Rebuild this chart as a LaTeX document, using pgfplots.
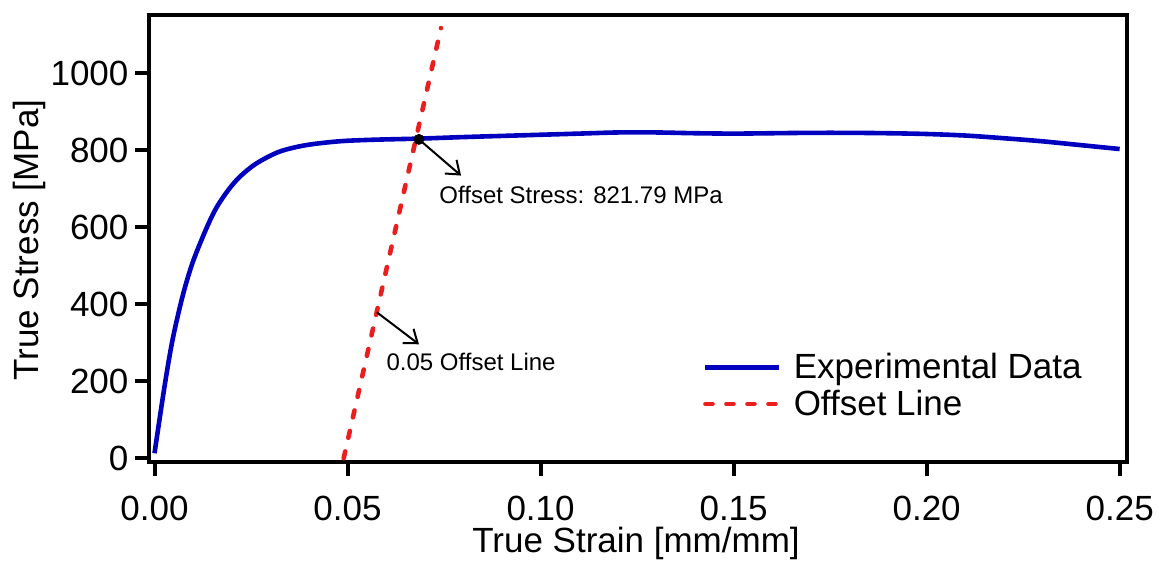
\documentclass[border=0pt]{standalone}
\usepackage{pgfplots}
\pgfplotsset{compat=1.18}
\usepackage{fontspec}
\setmainfont{Liberation Sans}
\usetikzlibrary{arrows.meta}
\definecolor{expblue}{RGB}{0,0,190}
\definecolor{offred}{RGB}{235,30,30}

\begin{document}
\begin{tikzpicture}
\begin{axis}[
  scale only axis, width=488.75pt, height=223.75pt,
  at={(0,0)}, anchor=south west,
  xmin=-0.0013, xmax=0.2519, ymin=-11, ymax=1151,
  axis line style={line width=2pt},
  xtick={0,0.05,0.10,0.15,0.20,0.25}, ytick={0,200,400,600,800,1000},
  scaled x ticks=false, scaled y ticks=false,
  tick style={line width=2pt, black},
  major tick length=7pt,
  tick align=outside, xtick pos=bottom, ytick pos=left,
  /pgf/number format/assume math mode=true,
  xticklabel style={yshift=-6pt, /pgf/number format/.cd, fixed, fixed zerofill, precision=2},
  yticklabel style={/pgf/number format/.cd, fixed, int detect, 1000 sep={}},
  ticklabel style={font=\fontsize{17.5}{20}\selectfont},
  label style={font=\fontsize{17.5}{20}\selectfont},
  xlabel={True Strain [mm/mm]}, ylabel={True Stress [MPa]},
  xlabel style={at={(axis description cs:0.4977,-0.18)}, anchor=center},
  ylabel style={at={(axis description cs:-0.1228,0.497)}, anchor=center},
  legend style={at={(axis description cs:0.566,0.2536)}, anchor=north west,
    draw=none, fill=none, font=\fontsize{17.5}{19}\selectfont,
    row sep=0pt, inner sep=0pt},
  legend cell align=left,
  legend image code/.code={\draw[#1] (0pt,0pt) -- (37pt,0pt); \path (41pt,0pt);},
]
\addplot[expblue, line width=2.3pt, smooth] coordinates {
(0,13) (0.0026,187) (0.0047,309) (0.0073,422) (0.0099,509) (0.0134,596)
(0.0160,650) (0.0190,695) (0.022,730) (0.0263,765) (0.0323,796) (0.0392,813) (0.0478,823)
(0.0564,827) (0.0685,830) (0.08,834) (0.09,837) (0.10,840) (0.11,843)
(0.12,846) (0.13,846) (0.14,844) (0.15,843) (0.16,844) (0.17,845)
(0.18,845) (0.19,844) (0.20,842) (0.21,838) (0.22,831) (0.23,823)
(0.24,813) (0.25,803)
};
\addlegendentry{Experimental Data}
\addplot[offred, line width=2.3pt, line cap=round, dash pattern=on 3.5pt off 7pt] coordinates {
(0.049,0) (0.0742,1117)
};
\addlegendentry{Offset Line}
\addplot[only marks, mark=*, mark size=2.5pt, black, forget plot] coordinates {(0.0685,828)};
\draw[-{Straight Barb[length=6pt,width=9pt]}, line width=1pt] (axis cs:0.0685,828) -- (axis cs:0.0794,734);
\node[anchor=west, inner sep=0pt, font=\fontsize{12}{14}\selectfont] at (axis cs:0.0737,684) {Offset Stress: 821.79 MPa};
\draw[-{Straight Barb[length=6pt,width=9pt]}, line width=1pt] (axis cs:0.0576,379) -- (axis cs:0.0685,296);
\node[anchor=west, inner sep=0pt, font=\fontsize{12}{14}\selectfont] at (axis cs:0.0600,249) {0.05 Offset Line};
\end{axis}
\pgfresetboundingbox
\path (-74.75pt,-49.25pt) rectangle (504.25pt,231.25pt);
\end{tikzpicture}
\end{document}
